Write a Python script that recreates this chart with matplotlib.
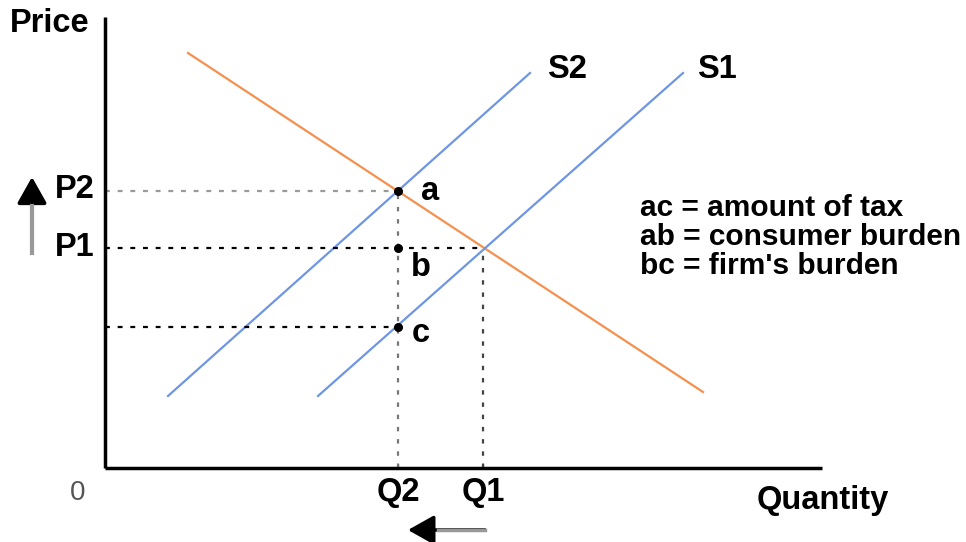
import matplotlib.pyplot as plt

plt.rcParams['font.family'] = ['Liberation Sans', 'DejaVu Sans']

# Curve endpoints (quantity, price)
demand_q = [83, 598]
demand_p = [415, 76]
s1_q = [213, 578]
s1_p = [72, 395]
s2_q = [63, 425]
s2_p = [72, 395]

# Equilibrium / tax points
q1, q2 = 378, 293
p1, p2, pc = 220, 277, 141

legend_lines = ["ac = amount of tax", "ab = consumer burden", "bc = firm's burden"]

fig = plt.figure(figsize=(9.66, 5.42), dpi=100)
ax = fig.add_axes([0, 0, 1, 1])
ax.set_xlim(-105, 861)
ax.set_ylim(-74, 468)
ax.axis('off')

# Axes
ax.plot([0, 0], [0, 451], color='black', lw=2.5, solid_capstyle='butt', zorder=3)
ax.plot([0, 717], [0, 0], color='black', lw=2.5, solid_capstyle='butt', zorder=3)
ax.plot([q2, q2], [0, 4], color='gray', lw=1)
ax.plot([q1, q1], [0, 4], color='gray', lw=1)

# Curves
ax.plot(demand_q, demand_p, color='#f5904f', lw=1.6)
ax.plot(s1_q, s1_p, color='#6f96e2', lw=1.6)
ax.plot(s2_q, s2_p, color='#6f96e2', lw=1.6)

# Guide lines
ax.plot([0, q2], [p2, p2], color='#9a9a9a', lw=1.6, ls=(0, (2.2, 3.5)))
ax.plot([0, q1], [p1, p1], color='black', lw=1.6, ls=(0, (2.2, 3.5)))
ax.plot([0, q2], [pc, pc], color='black', lw=1.6, ls=(0, (2.2, 3.5)))
ax.plot([q2, q2], [0, p2], color='#777777', lw=1.6, ls=(0, (2.0, 3.5)))
ax.plot([q1, q1], [0, p1], color='#444444', lw=1.6, ls=(0, (2.0, 3.5)))

# Points a, b, c
ax.plot([q2, q2, q2], [p2, p1, pc], 'o', color='black', ms=5.5, zorder=4)

fs = 23.5
ax.text(-95, 444, "Price", fontsize=fs, fontweight='bold', ha='left', va='center')
ax.text(-27, -25, "0", fontsize=20, ha='center', va='center', color='#555555')
ax.text(q2, -25, "Q2", fontsize=fs, fontweight='bold', ha='center', va='center')
ax.text(q1, -25, "Q1", fontsize=fs, fontweight='bold', ha='center', va='center')
ax.text(652, -32, "Quantity", fontsize=fs, fontweight='bold', ha='left', va='center')
ax.text(-50, 279, "P2", fontsize=fs, fontweight='bold', ha='left', va='center')
ax.text(-50, 221, "P1", fontsize=fs, fontweight='bold', ha='left', va='center')
ax.text(442, 399, "S2", fontsize=fs, fontweight='bold', ha='left', va='center')
ax.text(592, 399, "S1", fontsize=fs, fontweight='bold', ha='left', va='center')
ax.text(325, 277, "a", fontsize=fs, fontweight='bold', ha='center', va='center')
ax.text(316, 201, "b", fontsize=fs, fontweight='bold', ha='center', va='center')
ax.text(316, 134, "c", fontsize=fs, fontweight='bold', ha='center', va='center')

for i, line in enumerate(legend_lines):
    ax.text(535, 260 - 29 * i, line, fontsize=21.5, fontweight='bold', ha='left', va='center')

# Direction arrows
ax.annotate("", xy=(-73, 291), xytext=(-73, 215),
            arrowprops=dict(arrowstyle='-|>,head_length=1.6,head_width=0.9',
                            color='black', lw=2.8, shrinkA=0, shrinkB=0))
ax.plot([-73, -73], [215, 262], color='#999999', lw=3, zorder=5)
ax.annotate("", xy=(303, -62), xytext=(380, -62),
            arrowprops=dict(arrowstyle='-|>,head_length=1.6,head_width=0.9',
                            color='black', lw=2.5, shrinkA=0, shrinkB=0))
ax.plot([333, 380], [-62, -62], color='#999999', lw=2.5, zorder=5)

fig.savefig('out.png', dpi=100)
